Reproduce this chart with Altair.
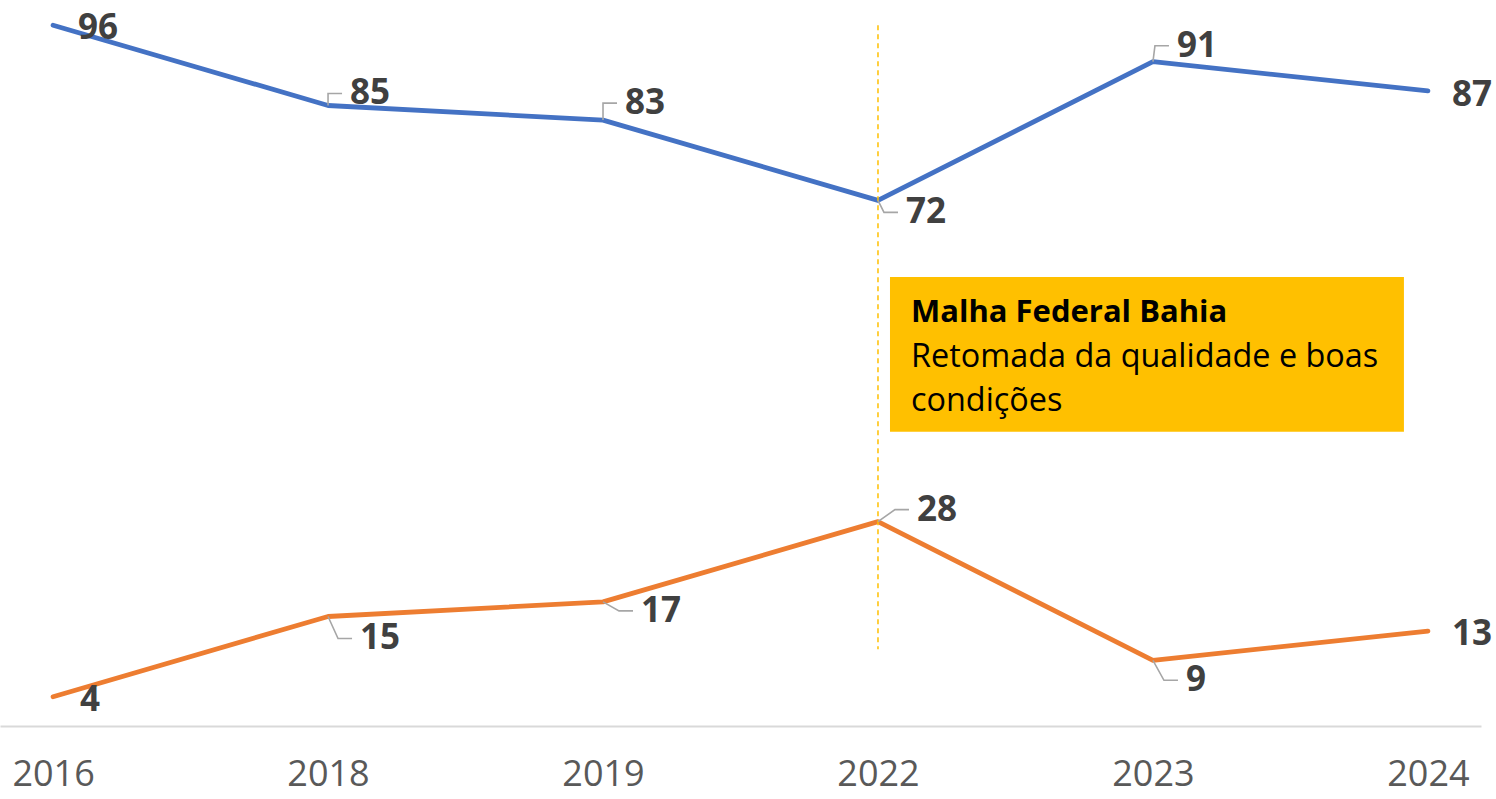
import altair as alt
import pandas as pd

# ---- data ----
years = ["2016", "2018", "2019", "2022", "2023", "2024"]
serie_1 = [96, 85, 83, 72, 91, 87]   # blue line
serie_2 = [4, 15, 17, 28, 9, 13]     # orange line
series_names = ["Série 1", "Série 2"]
series_colors = ["#4472C4", "#ED7D31"]

note_title = "Malha Federal Bahia"
note_lines = ["Retomada da qualidade e boas", "condições"]
note_year = "2022"

# ---- label placement (pixels: left edge dx, vertical centre dy) ----
label_offsets = {
    ("Série 1", "2016"): (25, 3), ("Série 1", "2018"): (22, -12),
    ("Série 1", "2019"): (22, -17), ("Série 1", "2022"): (28, 12),
    ("Série 1", "2023"): (24, -16), ("Série 1", "2024"): (24, 4),
    ("Série 2", "2016"): (27, 3), ("Série 2", "2018"): (32, 22),
    ("Série 2", "2019"): (38, 9), ("Série 2", "2022"): (39, -12),
    ("Série 2", "2023"): (33, 20), ("Série 2", "2024"): (24, 3),
}
leader_years = ["2018", "2019", "2022", "2023"]

W, H = 1481, 726
YMAX = 99.45
PX = YMAX / H  # data units per pixel

rows = []
for name, vals in zip(series_names, [serie_1, serie_2]):
    for y, v in zip(years, vals):
        dx, dy = label_offsets[(name, y)]
        rows.append({"series": name, "year": y, "value": v, "dx": dx, "dy": dy})
df = pd.DataFrame(rows)

lead_rows = []
for r in rows:
    if r["year"] in leader_years:
        lid = r["series"] + r["year"]
        pts = [(0, 0), (r["dx"] - 22, r["dy"]), (r["dx"] - 8, r["dy"])]
        for i, (ox, oy) in enumerate(pts):
            lead_rows.append({"lid": lid, "year": r["year"], "value": r["value"],
                              "ord": i, "ox": ox, "oy": oy})
leaders = pd.DataFrame(lead_rows)

xscale = alt.Scale(type="point", domain=years, padding=0.193)
yscale = alt.Scale(domain=[0, YMAX], nice=False, zero=False)

X_axis = alt.X("year:O", scale=xscale, sort=years,
               axis=alt.Axis(title=None, labelAngle=0, ticks=False, grid=False,
                             labelFont="Open Sans", labelFontSize=36, labelColor="#595959",
                             labelPadding=31, domainColor="#D9D9D9", domainWidth=2))
X = alt.X("year:O", scale=xscale, sort=years)

def Yq(field):
    return alt.Y(field, scale=yscale, axis=None)

base = alt.Chart(df)

lines = base.mark_line(strokeWidth=4.8, strokeCap="round", strokeJoin="round").encode(
    x=X_axis, y=Yq("value:Q"),
    color=alt.Color("series:N", scale=alt.Scale(domain=series_names, range=series_colors), legend=None),
)

lead = alt.Chart(leaders).transform_calculate(
    ly=f"datum.value - datum.oy * {PX}"
).mark_line(color="#A6A6A6", strokeWidth=1.6).encode(
    x=X, y=Yq("ly:Q"),
    detail="lid:N", order="ord:Q",
    xOffset=alt.XOffset("ox:Q", scale=None),
)

labels = base.transform_calculate(
    ly=f"datum.value - datum.dy * {PX}"
).mark_text(align="left", baseline="middle", font="Open Sans",
            fontWeight="bold", fontSize=35, color="#404040").encode(
    x=X, y=Yq("ly:Q"),
    text="value:Q",
    xOffset=alt.XOffset("dx:Q", scale=None),
)

ann = pd.DataFrame({"year": [note_year], "year2": ["2024"], "top": [96], "bottom": [10.5],
                    "b_top": [61.5], "b_bot": [40.3]})
annb = alt.Chart(ann)

vline = annb.mark_rule(color="#FFC000", strokeWidth=1.5, strokeDash=[5, 4]).encode(
    x=X, y=Yq("top:Q"), y2="bottom:Q",
)

box = annb.mark_rect(color="#FFC000", xOffset=12, x2Offset=-24).encode(
    x=X, x2="year2:O", y=Yq("b_top:Q"), y2="b_bot:Q",
)

note_df = pd.DataFrame({
    "year": [note_year] * 3,
    "txt": [note_title] + note_lines,
    "bold": [True, False, False],
    "ty": [56.6, 50.55, 44.5],
})

t_title = alt.Chart(note_df).transform_filter("datum.bold").mark_text(
    align="left", baseline="middle", font="Open Sans", fontWeight="bold",
    fontSize=31, color="#000000", dx=33).encode(
    x=X, y=Yq("ty:Q"), text="txt:N",
)

t_body = alt.Chart(note_df).transform_filter("!datum.bold").mark_text(
    align="left", baseline="middle", font="Open Sans",
    fontSize=32.4, color="#000000", dx=33).encode(
    x=X, y=Yq("ty:Q"), text="txt:N",
)

chart = alt.layer(lines, vline, box, t_title, t_body, lead, labels).properties(
    width=W, height=H,
    padding={"left": 0, "top": 0, "right": 15, "bottom": 73},
    autosize=alt.AutoSizeParams(type="none"),
).configure_view(stroke=None)

chart.save("out.html", embed_options={"renderer": "svg", "actions": False})
